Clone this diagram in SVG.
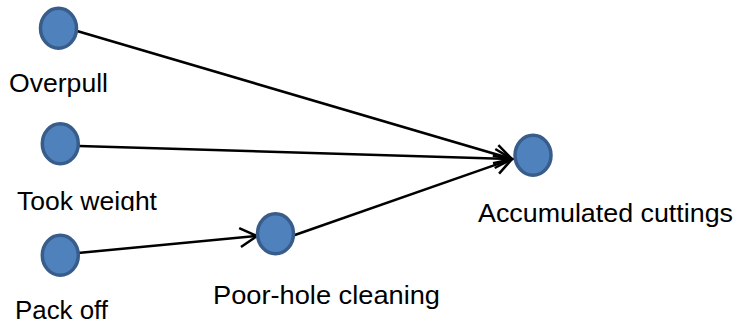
<svg xmlns="http://www.w3.org/2000/svg" width="739" height="324" viewBox="0 0 739 324">
<style>
.node ellipse { fill: #4f81bd; stroke: #385d8a; stroke-width: 3.5; }
.lbl { font-family: "Liberation Sans", Arial, sans-serif; font-size: 26px; fill: #000; }
.edge { stroke: #000; stroke-width: 2.5; fill: none; }
</style>
<defs>
<marker id="arr" markerUnits="userSpaceOnUse" viewBox="-20 -12 22 24" markerWidth="22" markerHeight="24" refX="0" refY="0" orient="auto">
<path d="M -17,-9.5 L 0,0 L -17,9.5" fill="none" stroke="#000" stroke-width="2.5"/>
</marker>
<clipPath id="clipTook"><rect x="0" y="170" width="200" height="41"/></clipPath>
</defs>
<rect width="739" height="324" fill="#fff"/>
<g id="connectors">
<line class="edge" x1="77" y1="31" x2="512" y2="159" marker-end="url(#arr)"/>
<line class="edge" x1="79" y1="146" x2="512" y2="159" marker-end="url(#arr)"/>
<line class="edge" x1="292" y1="236" x2="512" y2="159" marker-end="url(#arr)"/>
<line class="edge" x1="78" y1="253" x2="257" y2="236" marker-end="url(#arr)"/>
</g>
<g id="overpull" class="node">
<ellipse cx="58.5" cy="28.3" rx="18" ry="20"/>
<text class="lbl" x="9" y="92" textLength="99" lengthAdjust="spacingAndGlyphs">Overpull</text>
</g>
<g id="took-weight" class="node">
<ellipse cx="60.3" cy="143.7" rx="18" ry="20"/>
<text class="lbl" x="17" y="210" textLength="140" lengthAdjust="spacingAndGlyphs" clip-path="url(#clipTook)">Took weight</text>
</g>
<g id="pack-off" class="node">
<ellipse cx="60.3" cy="255.3" rx="18" ry="20"/>
<text class="lbl" x="15" y="319" textLength="93" lengthAdjust="spacingAndGlyphs">Pack off</text>
</g>
<g id="poor-hole-cleaning" class="node">
<ellipse cx="275.5" cy="233.7" rx="18" ry="20"/>
<text class="lbl" x="213" y="304" textLength="227" lengthAdjust="spacingAndGlyphs">Poor-hole cleaning</text>
</g>
<g id="accumulated-cuttings" class="node">
<ellipse cx="533" cy="155.3" rx="18" ry="20"/>
<text class="lbl" x="478" y="222" textLength="255" lengthAdjust="spacingAndGlyphs">Accumulated cuttings</text>
</g>
</svg>
